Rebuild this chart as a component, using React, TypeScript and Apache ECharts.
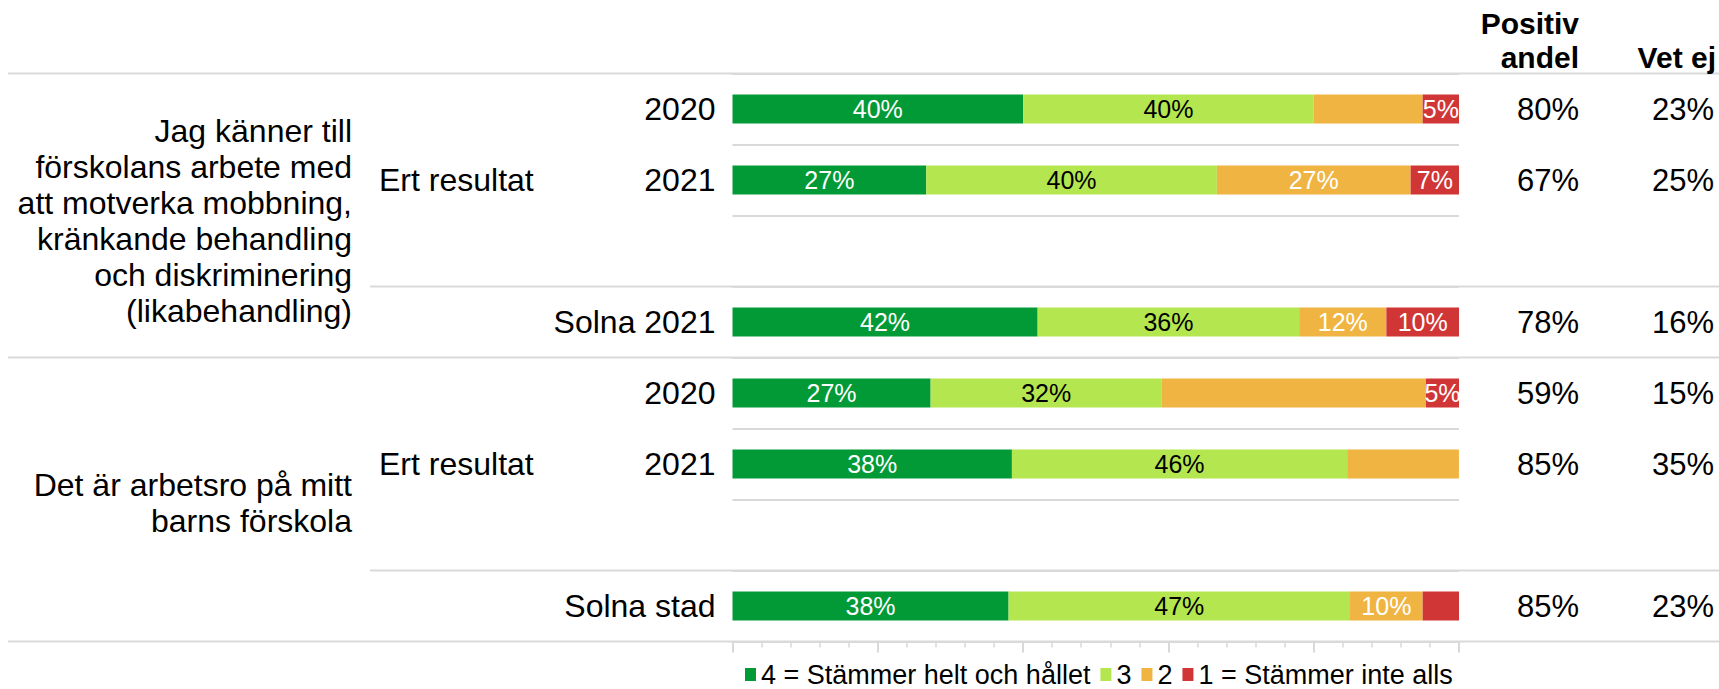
import React, { useEffect, useRef } from "react";
import * as echarts from "echarts";

// ---- data ----
const rowLabels = ["2020", "2021", "", "Solna 2021", "2020", "2021", "", "Solna stad"];
const level4 = [40, 26.67, null, 42, 27.27, 38.46, null, 38];
const level3 = [40, 40, null, 36, 31.82, 46.15, null, 47];
const level2 = [15, 26.67, null, 12, 36.36, 15.38, null, 10];
const level1 = [5, 6.67, null, 10, 4.55, 0, null, 5];
const show4 = [true, true, false, true, true, true, false, true];
const show3 = [true, true, false, true, true, true, false, true];
const show2 = [false, true, false, true, false, false, false, true];
const show1 = [true, true, false, true, true, false, false, false];
const positiveShare = [80, 67, null, 78, 59, 85, null, 85];
const dontKnow = [23, 25, null, 16, 15, 35, null, 23];
const seriesNames = ["4 = Stämmer helt och hållet", "3", "2", "1 = Stämmer inte alls"];
const questions = [
  "Jag känner till\nförskolans arbete med\natt motverka mobbning,\nkränkande behandling\noch diskriminering\n(likabehandling)",
  "Det är arbetsro på mitt\nbarns förskola",
];
const subGroupLabel = "Ert resultat";
const headerPositive = "Positiv\nandel";
const headerDontKnow = "Vet ej";
const xTicks = [0, 20, 40, 60, 80, 100];

// ---- layout ----
const W = 1719;
const H = 689;
const GRID_LEFT = 732.5;
const GRID_RIGHT_X = 1459;
const GRID_TOP = 73.5;
const GRID_BOTTOM_Y = 641.5;
const SLOT = (GRID_BOTTOM_Y - GRID_TOP) / rowLabels.length;
const FONT = "Liberation Sans, Arial, Helvetica, sans-serif";
const LINE_COLOR = "#d9d9d9";
const COLORS = ["#029a36", "#b4e64f", "#f0b443", "#d13637"];
const LABEL_COLORS = ["#ffffff", "#000000", "#ffffff", "#ffffff"];
const LEFT_FONT = 32;

export default function App() {
  const ref = useRef<HTMLDivElement>(null);

  useEffect(() => {
    document.body.style.margin = "0";
    if (!ref.current) return;
    const chart = echarts.init(ref.current, null, { renderer: "svg" });

    const levels = [level4, level3, level2, level1];
    const shows = [show4, show3, show2, show1];

    const series = levels.map((vals, si) => ({
      name: seriesNames[si],
      type: "bar",
      stack: "total",
      barWidth: 29,
      yAxisIndex: 0,
      itemStyle: { color: COLORS[si] },
      label: {
        show: true,
        position: "inside",
        fontSize: 25,
        fontFamily: FONT,
        color: LABEL_COLORS[si],
        formatter: (p: any) => Math.round(p.value) + "%",
      },
      data: vals.map((v, i) => ({
        value: v,
        label: { show: shows[si][i] && v !== null && v > 0 },
      })),
    }));

    const longLine = (y: number, x1: number) => ({
      type: "line",
      silent: true,
      shape: { x1, y1: y, x2: W, y2: y },
      style: { stroke: LINE_COLOR, lineWidth: 2 },
      z: 0,
    });

    const textEl = (text: string, x: number, y: number, align: string, opts: any = {}) => ({
      type: "text",
      x,
      y,
      silent: true,
      style: {
        text,
        fill: "#000",
        font: `${opts.bold ? "bold " : ""}${opts.size || LEFT_FONT}px ${FONT}`,
        align,
        verticalAlign: "middle",
        lineHeight: opts.lineHeight || 36,
      },
    });

    const rowCenter = (i: number) => GRID_TOP + (i + 0.5) * SLOT;

    const option: any = {
      animation: false,
      textStyle: { fontFamily: FONT },
      grid: {
        left: GRID_LEFT,
        right: W - GRID_RIGHT_X,
        top: GRID_TOP,
        bottom: H - GRID_BOTTOM_Y,
        containLabel: false,
      },
      legend: {
        data: seriesNames,
        left: 745,
        top: 661,
        padding: 0,
        icon: "rect",
        itemWidth: 11,
        itemHeight: 13,
        itemGap: 10,
        textStyle: { fontSize: 27, color: "#000", fontFamily: FONT },
        selectedMode: false,
      },
      xAxis: {
        type: "value",
        min: xTicks[0],
        max: xTicks[xTicks.length - 1],
        interval: xTicks[1] - xTicks[0],
        axisLabel: { show: false },
        splitLine: { show: false },
        axisLine: { show: true, lineStyle: { color: LINE_COLOR, width: 2 } },
        axisTick: { show: true, length: 11, lineStyle: { color: LINE_COLOR, width: 2 } },
        minorTick: { show: true, splitNumber: 5, length: 6, lineStyle: { color: LINE_COLOR, width: 1.5 } },
      },
      yAxis: [
        {
          type: "category",
          inverse: true,
          data: rowLabels.map((_, i) => "r" + i),
          axisLine: { show: false },
          axisTick: { show: false },
          splitLine: { show: true, lineStyle: { color: LINE_COLOR, width: 2 } },
          axisLabel: {
            fontSize: LEFT_FONT,
            color: "#000",
            fontFamily: FONT,
            margin: 17,
            formatter: (_v: string, i: number) => rowLabels[i],
          },
        },
        {
          type: "category",
          inverse: true,
          position: "right",
          data: rowLabels.map((_, i) => "p" + i),
          axisLine: { show: false },
          axisTick: { show: false },
          splitLine: { show: false },
          axisLabel: {
            fontSize: 31,
            color: "#000",
            fontFamily: FONT,
            align: "right",
            margin: 1579 - GRID_RIGHT_X,
            formatter: (_v: string, i: number) => (positiveShare[i] === null ? "" : positiveShare[i] + "%"),
          },
        },
        {
          type: "category",
          inverse: true,
          position: "right",
          data: rowLabels.map((_, i) => "d" + i),
          axisLine: { show: false },
          axisTick: { show: false },
          splitLine: { show: false },
          axisLabel: {
            fontSize: 31,
            color: "#000",
            fontFamily: FONT,
            align: "right",
            margin: 1714 - GRID_RIGHT_X,
            formatter: (_v: string, i: number) => (dontKnow[i] === null ? "" : dontKnow[i] + "%"),
          },
        },
      ],
      series,
      graphic: [
        longLine(GRID_TOP, 8),
        longLine(GRID_TOP + 4 * SLOT, 8),
        longLine(GRID_BOTTOM_Y, 8),
        longLine(GRID_TOP + 3 * SLOT, 370),
        longLine(GRID_TOP + 7 * SLOT, 370),
        textEl(questions[0], 352, GRID_TOP + 2 * SLOT + 5, "right"),
        textEl(questions[1], 352, GRID_TOP + 6 * SLOT + 3, "right"),
        textEl(subGroupLabel, 379, rowCenter(1), "left"),
        textEl(subGroupLabel, 379, rowCenter(5), "left"),
        textEl(headerPositive, 1579, 40, "right", { bold: true, size: 30, lineHeight: 34 }),
        textEl(headerDontKnow, 1716, 57, "right", { bold: true, size: 30 }),
      ],
    };

    chart.setOption(option);
    return () => chart.dispose();
  }, []);

  return (
    <div
      ref={ref}
      style={{ position: "absolute", left: 0, top: 0, width: W, height: H, background: "#fff" }}
    />
  );
}
